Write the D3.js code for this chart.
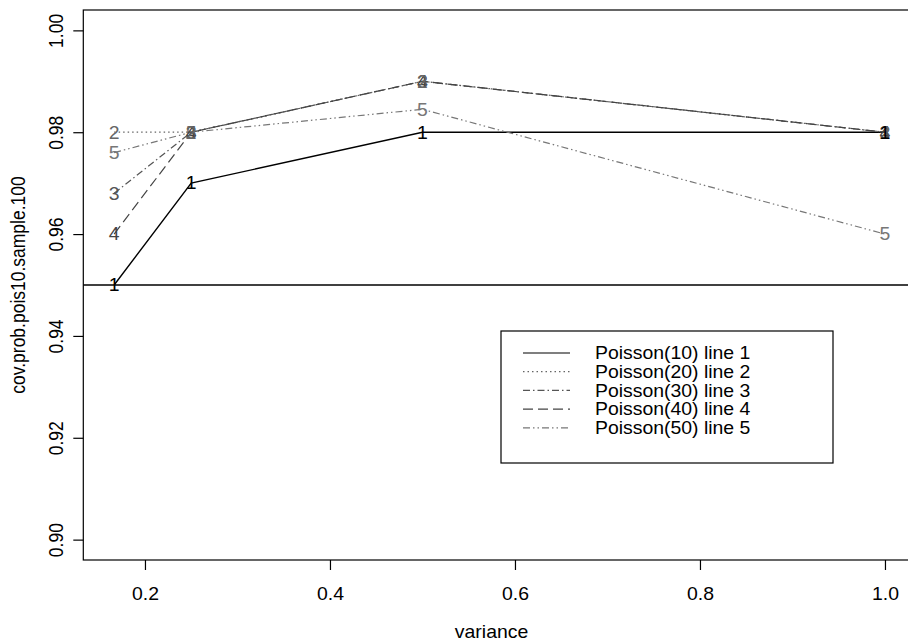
<!DOCTYPE html>
<html>
<head>
<meta charset="utf-8">
<script src="https://cdn.jsdelivr.net/npm/d3@7"></script>
<style>
  body { margin: 0; background: #fff; }
  svg { display: block; }
  text { font-family: "Liberation Sans", Arial, Helvetica, sans-serif; }
</style>
</head>
<body>
<svg id="chart" width="908" height="644"></svg>
<script>
// ---------------- data ----------------
const variance = [1 / 6, 0.25, 0.5, 1.0];
const line1 = [0.95, 0.97, 0.98, 0.98];
const line2 = [0.98, 0.98, 0.99, 0.98];
const line3 = [0.968, 0.98, 0.99, 0.98];
const line4 = [0.96, 0.98, 0.99, 0.98];
const line5 = [0.976, 0.98, 0.9845, 0.96];
const lineLabels = ["1", "2", "3", "4", "5"];
const legendLabels = ["Poisson(10) line 1", "Poisson(20) line 2", "Poisson(30) line 3", "Poisson(40) line 4", "Poisson(50) line 5"];
const xTicks = [0.2, 0.4, 0.6, 0.8, 1.0];
const yTicks = [0.90, 0.92, 0.94, 0.96, 0.98, 1.00];
const refLine = 0.95;
const xTitle = "variance";
const yTitle = "cov.prob.pois10.sample.100";

(function () {
// ---------------- styles ----------------
const allLines = [line1, line2, line3, line4, line5];
const dashes = [null, "1.5,3", "7,3,1.5,3", "10,5", "7,3,1.5,3,1.5,3"];
const colors = ["#000", "#666", "#555", "#444", "#777"];
const FS = 17.5;     // font size
const SX = 1.11;     // horizontal stretch of scanned text

const svg = d3.select("#chart");

// R-style 4% axis padding
const xr = d3.extent(variance), xp = (xr[1] - xr[0]) * 0.04;
const yr = [0.90, 1.00], yp = (yr[1] - yr[0]) * 0.04;
const pLeft = 83.3, pTop = 10, pBottom = 560;
const pxPerUnit = 925;
const pRight = pLeft + (xr[1] - xr[0] + 2 * xp) * pxPerUnit;

const x = d3.scaleLinear().domain([xr[0] - xp, xr[1] + xp]).range([pLeft, pRight]);
const y = d3.scaleLinear().domain([yr[0] - yp, yr[1] + yp]).range([pBottom, pTop]);

function txt(g, px, py, s, opts = {}) {
  const t = g.append("g")
    .attr("transform", `translate(${px},${py}) scale(${SX},1)` + (opts.rotate ? ` rotate(${opts.rotate})` : ""))
    .append("text")
    .attr("font-size", opts.size || FS)
    .attr("fill", opts.fill || "#000")
    .attr("text-anchor", opts.anchor || "middle")
    .text(s);
  if (opts.central) t.attr("dy", "0.36em");
  return t;
}

// plot box
svg.append("rect")
  .attr("x", pLeft).attr("y", pTop)
  .attr("width", pRight - pLeft).attr("height", pBottom - pTop)
  .attr("fill", "none").attr("stroke", "#000").attr("stroke-width", 1.2);

// x axis
const xAxis = svg.append("g")
  .attr("transform", `translate(0,${pBottom})`)
  .call(d3.axisBottom(x).tickValues(xTicks).tickSize(10).tickSizeOuter(0).tickFormat(d3.format(".1f")));
xAxis.select(".domain").remove();
xAxis.selectAll(".tick line").attr("stroke", "#000").attr("stroke-width", 1.2);
xAxis.selectAll(".tick text")
  .attr("y", 40).attr("dy", 0)
  .attr("font-size", FS).attr("fill", "#000")
  .attr("font-family", "Liberation Sans, Arial, sans-serif")
  .attr("transform", `scale(${SX},1)`);

// y axis
const yAxis = svg.append("g")
  .attr("transform", `translate(${pLeft},0)`)
  .call(d3.axisLeft(y).tickValues(yTicks).tickSize(10).tickSizeOuter(0).tickFormat(d3.format(".2f")));
yAxis.select(".domain").remove();
yAxis.selectAll(".tick line").attr("stroke", "#000").attr("stroke-width", 1.2);
yAxis.selectAll(".tick text")
  .attr("x", 0).attr("y", 0).attr("dy", 0)
  .attr("text-anchor", "middle")
  .attr("font-size", FS).attr("fill", "#000")
  .attr("font-family", "Liberation Sans, Arial, sans-serif")
  .attr("transform", `translate(-20,0) scale(${SX},1) rotate(-90)`);

// axis titles
txt(svg, (pLeft + pRight) / 2 - 8, 638, xTitle);
txt(svg, 25, (pTop + pBottom) / 2, yTitle, { rotate: -90 });

// reference line
svg.append("line")
  .attr("x1", pLeft).attr("x2", pRight)
  .attr("y1", y(refLine)).attr("y2", y(refLine))
  .attr("stroke", "#000").attr("stroke-width", 1.3);

// series lines
const lineGen = d3.line().x((d, i) => x(variance[i])).y(d => y(d));
const plot = svg.append("g");
allLines.forEach((vals, k) => {
  plot.append("path")
    .datum(vals)
    .attr("d", lineGen)
    .attr("fill", "none")
    .attr("stroke", colors[k])
    .attr("stroke-width", k === 0 ? 1.4 : 1.2)
    .attr("stroke-dasharray", dashes[k]);
});
// number labels at points (draw in reverse so line 1 on top)
for (let k = allLines.length - 1; k >= 0; k--) {
  allLines[k].forEach((v, i) => {
    txt(plot, x(variance[i]), y(v), lineLabels[k], { central: true, fill: colors[k] });
  });
}

// legend
const lg = svg.append("g");
const lgX = 501, lgY = 331, lgW = 332, lgH = 132;
lg.append("rect").attr("x", lgX).attr("y", lgY).attr("width", lgW).attr("height", lgH)
  .attr("fill", "#fff").attr("stroke", "#000").attr("stroke-width", 1.2);
legendLabels.forEach((lab, k) => {
  const ry = lgY + 22 + k * 18.7;
  lg.append("line")
    .attr("x1", lgX + 22).attr("x2", lgX + 69)
    .attr("y1", ry).attr("y2", ry)
    .attr("stroke", colors[k]).attr("stroke-width", 1.2)
    .attr("stroke-dasharray", dashes[k]);
  txt(lg, lgX + 94, ry, lab, { anchor: "start", central: true });
});
})();
</script>
</body>
</html>
